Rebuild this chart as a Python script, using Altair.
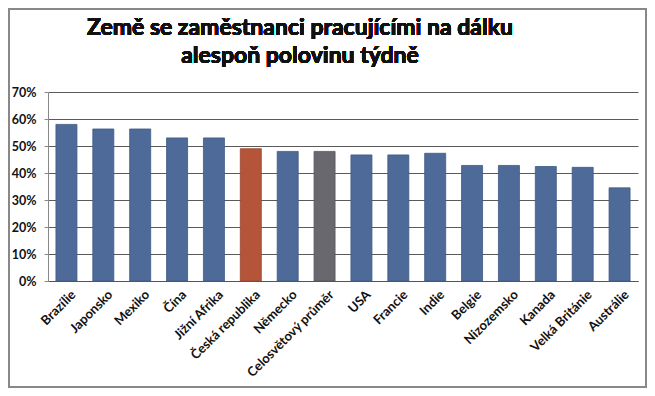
import altair as alt
import pandas as pd

countries = ["Brazílie", "Japonsko", "Mexiko", "Čína", "Jižní Afrika", "Česká republika",
             "Německo", "Celosvětový průměr", "USA", "Francie", "Indie", "Belgie",
             "Nizozemsko", "Kanada", "Velká Británie", "Austrálie"]
values = [0.58, 0.563, 0.563, 0.53, 0.53, 0.49, 0.48, 0.48, 0.467, 0.467, 0.473,
          0.428, 0.428, 0.424, 0.421, 0.345]
groups = ["jiné"] * 5 + ["ČR", "jiné", "průměr"] + ["jiné"] * 8
title_lines = ["Země se zaměstnanci pracujícími na dálku", "alespoň polovinu týdně"]

df = pd.DataFrame({"zeme": countries, "podil": values, "skupina": groups})

FONT = "Lato"

bars = alt.Chart(df).mark_bar(strokeWidth=0.8).encode(
    x=alt.X("zeme:N", sort=countries,
            scale=alt.Scale(paddingInner=0.43, paddingOuter=0.215),
            axis=alt.Axis(title=None, labelAngle=-45, labelFont=FONT, labelFontSize=13,
                          labelFontWeight="bold", labelColor="#111", ticks=False,
                          domainColor="#555", labelPadding=7, labelOffset=3)),
    y=alt.Y("podil:Q", scale=alt.Scale(domain=[0, 0.7]),
            axis=alt.Axis(title=None, format=".0%", values=[0, 0.1, 0.2, 0.3, 0.4, 0.5, 0.6, 0.7],
                          labelFont=FONT, labelFontSize=12.5, labelFontWeight="bold",
                          labelColor="#111", gridColor="#5a5a5a", gridWidth=1,
                          domainColor="#888", tickColor="#888", tickSize=4, labelPadding=8)),
    color=alt.Color("skupina:N", legend=None,
                    scale=alt.Scale(domain=["jiné", "ČR", "průměr"],
                                    range=["#4E6A98", "#B4553A", "#69686E"])),
    stroke=alt.Stroke("skupina:N", legend=None,
                      scale=alt.Scale(domain=["jiné", "ČR", "průměr"],
                                      range=["#3F5A85", "#9A4530", "#55555A"])),
)

title = alt.Chart(df).mark_text(
    text=title_lines, font=FONT, fontSize=23, fontWeight="bold", color="#111",
    align="center", baseline="alphabetic", lineHeight=28
).encode(x=alt.value(252), y=alt.value(-57))

frame = alt.Chart(df).mark_rect(fill=None, stroke="#888", strokeWidth=2).encode(
    x=alt.value(-39), x2=alt.value(598), y=alt.value(-83), y2=alt.value(295)
)

chart = alt.layer(bars, title, frame).properties(
    width=590, height=189,
    autosize=alt.AutoSizeParams(type="none"),
    padding={"left": 40, "top": 84, "right": 9, "bottom": 107},
).configure_view(stroke=None)

chart.save("out.html", embed_options={"renderer": "svg", "actions": False})
